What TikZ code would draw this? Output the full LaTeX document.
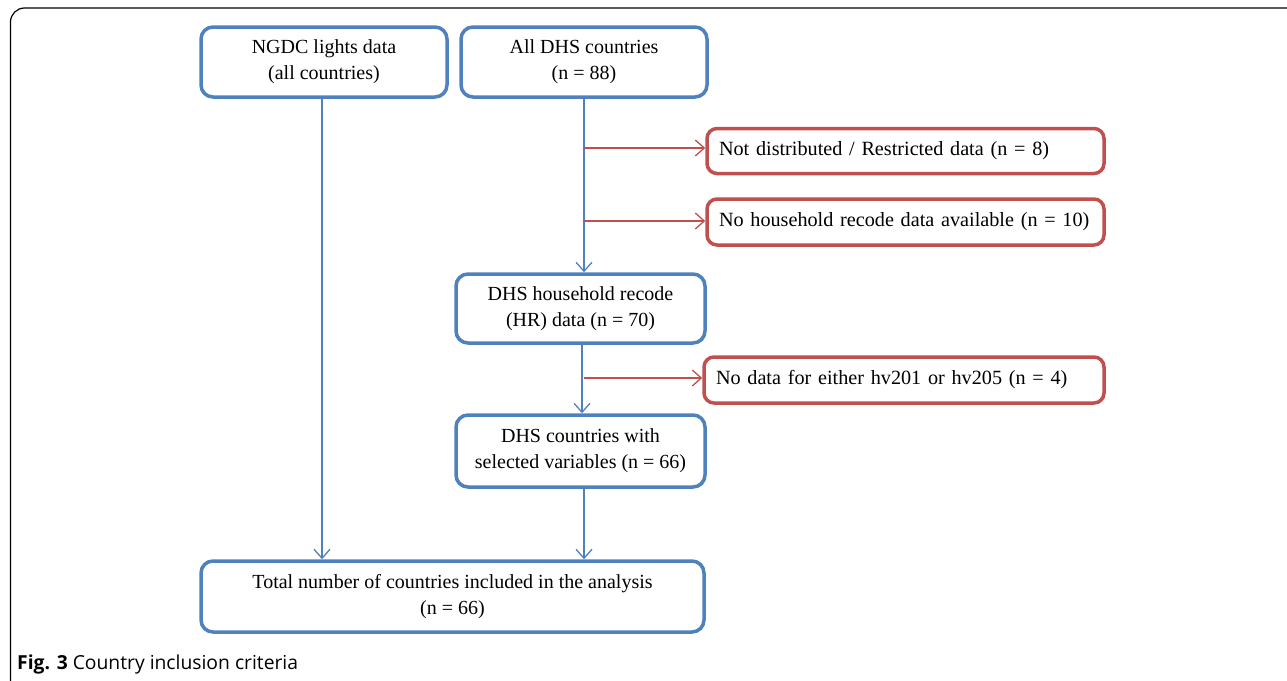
\documentclass[tikz,border=0pt]{standalone}
\usepackage{fontspec}
\setmainfont{Liberation Serif}
\newfontfamily\capfont{Open Sans}
\usetikzlibrary{arrows.meta}
\definecolor{boxblue}{HTML}{4F81BD}
\definecolor{boxred}{HTML}{C0504D}
\begin{document}
\begin{tikzpicture}[x=1pt,y=-1pt,
  bbox/.style={draw=boxblue, line width=3.5pt, rounded corners=12pt, align=center, inner sep=0pt,
     font=\fontsize{20}{26}\selectfont},
  rbox/.style={draw=boxred, line width=3.5pt, rounded corners=10pt, align=left, inner ysep=0pt,
     inner xsep=12pt, text width=373pt, font=\fontsize{20.2}{26}\selectfont},
  barrow/.style={draw=boxblue, line width=1.3pt, -{Straight Barb[length=9pt,width=16pt,line width=1.3pt]}},
  rarrow/.style={draw=boxred, line width=1.3pt, -{Straight Barb[length=9pt,width=16pt,line width=1.3pt]}}
]
\useasboundingbox (0,0) rectangle (1287,680);
\draw[line width=1.2pt, rounded corners=14pt] (1290,8) -- (10.5,8) -- (10.5,684);

\node[bbox, minimum width=246pt, minimum height=70pt] (ngdc) at (324,62) {NGDC lights data\\(all countries)};
\node[bbox, minimum width=246pt, minimum height=70pt] (dhs) at (584,62) {All DHS countries\\(n = 88)};
\node[rbox, minimum height=45pt] (r1) at (905.5,151) {Not distributed / Restricted data (n = 8)};
\node[rbox, minimum height=46pt] (r2) at (905.5,222) {No household recode data available (n = 10)};
\node[bbox, minimum width=249pt, minimum height=69pt] (hr) at (580.5,308.5) {DHS household recode\\(HR) data (n = 70)};
\node[rbox, text width=376pt, minimum height=46pt] (r3) at (904,380) {No data for either hv201 or hv205 (n = 4)};
\node[bbox, minimum width=249pt, minimum height=72pt] (sel) at (580.5,451) {DHS countries with\\selected variables (n = 66)};
\node[bbox, minimum width=503pt, minimum height=71pt] (tot) at (452.5,596.5) {Total number of countries included in the analysis\\(n = 66)};

\node[anchor=base west, inner sep=0pt, font=\capfont\fontsize{19.3}{22}\selectfont] (cap) at (17,669) {\textbf{Fig. 3} Country inclusion criteria};

\coordinate (a1) at (584,148);
\coordinate (a2) at (584,221);
\coordinate (a3) at (584,378);

\draw[barrow] (ngdc.south -| 322,0) -- (tot.north -| 322,0);
\draw[barrow] (dhs.south -| 584,0) -- (hr.north -| 584,0);
\draw[rarrow] (a1) -- (r1.west |- a1);
\draw[rarrow] (a2) -- (r2.west |- a2);
\draw[barrow] (hr.south -| 582,0) -- (sel.north -| 582,0);
\draw[rarrow] (a3) -- (r3.west |- a3);
\draw[barrow] (sel.south -| 584,0) -- (tot.north -| 584,0);
\end{tikzpicture}
\end{document}
